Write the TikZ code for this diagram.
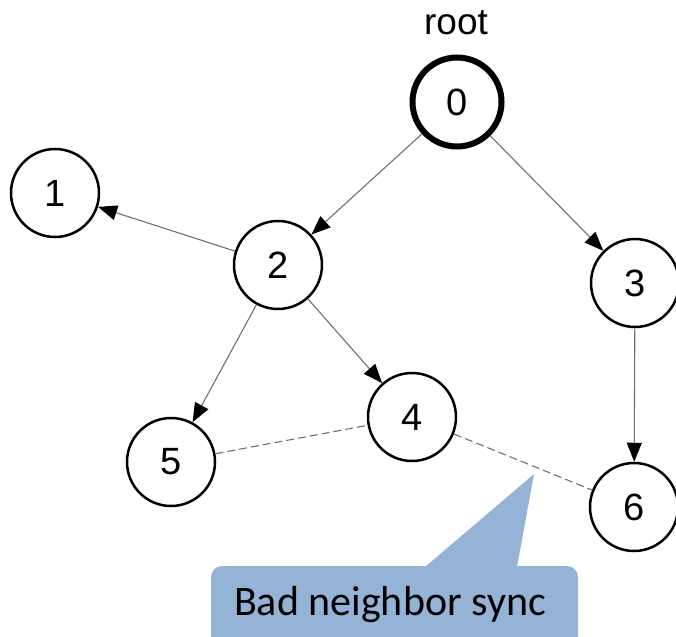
\documentclass[tikz,border=0pt]{standalone}
\usepackage{fontspec}
\setmainfont{Liberation Sans}
\newfontfamily\calloutfont{Carlito}
\usetikzlibrary{arrows.meta}
\definecolor{calloutblue}{HTML}{95B3D7}
\definecolor{edgegray}{HTML}{707070}
\tikzset{
  vertex/.style={circle, draw=black, line width=2.5pt, minimum size=88pt, inner sep=0pt,
                 font=\fontsize{38}{42}\selectfont},
  rootvertex/.style={vertex, line width=6pt, minimum size=89pt},
  treeedge/.style={draw=edgegray, line width=1.1pt,
                   -{Triangle[length=19pt,width=15pt,color=black]}},
  syncedge/.style={draw=edgegray, line width=1.1pt, dash pattern=on 8pt off 4pt},
}
\begin{document}
\begin{tikzpicture}[x=1pt,y=-1pt]
  \useasboundingbox (0,0) rectangle (676,636);

  % vertices of the spanning tree
  \node[rootvertex] (n0) at (457,102) {0};
  \node[vertex] (n1) at (55,193) {1};
  \node[vertex] (n2) at (278,265) {2};
  \node[vertex] (n3) at (635,283) {3};
  \node[vertex] (n4) at (412,417) {4};
  \node[vertex] (n5) at (171,462) {5};
  \node[vertex] (n6) at (634,507) {6};
  \node[font=\fontsize{37}{42}\selectfont, anchor=base] (rootlabel) at (456,35) {root};

  % tree edges
  \draw[treeedge] (n0) -- (n2);
  \draw[treeedge] (n0) -- (n3);
  \draw[treeedge] (n2) -- (n1);
  \draw[treeedge] (n2) -- (n5);
  \draw[treeedge] (n2) -- (n4);
  \draw[treeedge] (n3) -- (n6);

  % neighbour links
  \draw[syncedge] (n5) -- (n4);
  \draw[syncedge] (n4) -- (n6);

  % callout
  \fill[calloutblue, rounded corners=11pt] (211,566) rectangle (578,660);
  \fill[calloutblue] (425,567) -- (534,474) -- (517,567) -- cycle;
  \node[font=\calloutfont\fontsize{42}{48}\selectfont, anchor=base, inner sep=0pt]
    (callout) at (390,615) {Bad neighbor sync};
\end{tikzpicture}
\end{document}
